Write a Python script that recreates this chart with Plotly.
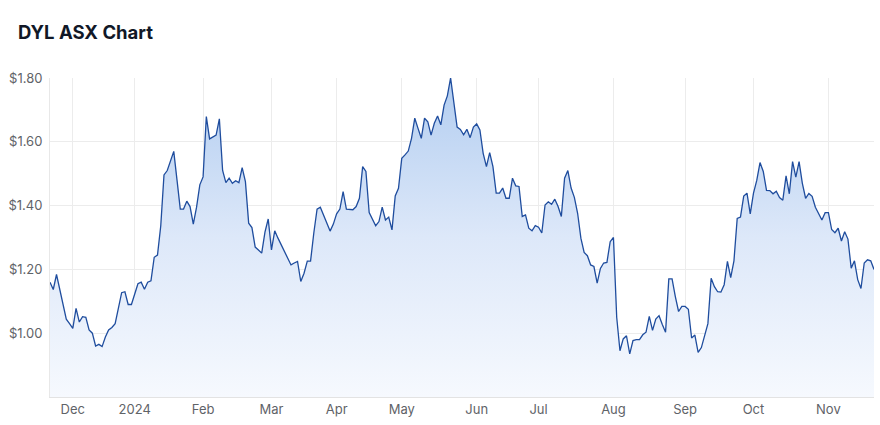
import pandas as pd
import plotly.graph_objects as go

# ASX trading-day calendar for the period shown
start_date = "2023-11-22"
end_date = "2024-11-21"
holidays = ["2023-12-25", "2023-12-26", "2024-01-01", "2024-01-26",
            "2024-03-29", "2024-04-01", "2024-04-25", "2024-06-10"]

# Daily closing price (AUD), one per trading day
prices = [
    1.16, 1.137, 1.184, 1.137, 1.10, 1.044, 1.03, 1.015, 1.078, 1.035,
    1.052, 1.05, 1.01, 1.00, 0.96, 0.965, 0.958, 0.988, 1.01, 1.018,
    1.03, 1.077, 1.127, 1.13, 1.09, 1.09, 1.125, 1.155, 1.16, 1.138,
    1.16, 1.164, 1.238, 1.245, 1.336, 1.496, 1.51, 1.542, 1.57, 1.48,
    1.389, 1.389, 1.414, 1.397, 1.342, 1.395, 1.465, 1.49, 1.679, 1.609,
    1.616, 1.621, 1.672, 1.51, 1.472, 1.486, 1.47, 1.478, 1.472, 1.519,
    1.475, 1.345, 1.331, 1.27, 1.261, 1.251, 1.317, 1.358, 1.261, 1.321,
    1.298, 1.277, 1.256, 1.235, 1.214, 1.22, 1.225, 1.162, 1.188, 1.226,
    1.226, 1.314, 1.389, 1.395, 1.368, 1.343, 1.32, 1.342, 1.374, 1.389,
    1.444, 1.389, 1.387, 1.387, 1.397, 1.423, 1.522, 1.507, 1.378, 1.357,
    1.337, 1.35, 1.395, 1.355, 1.364, 1.324, 1.43, 1.454, 1.548, 1.559,
    1.571, 1.611, 1.674, 1.642, 1.611, 1.674, 1.663, 1.621, 1.658, 1.681,
    1.653, 1.715, 1.744, 1.80, 1.72, 1.646, 1.639, 1.622, 1.639, 1.613,
    1.646, 1.656, 1.637, 1.564, 1.522, 1.566, 1.522, 1.439, 1.439, 1.455,
    1.423, 1.423, 1.486, 1.462, 1.46, 1.366, 1.371, 1.329, 1.321, 1.337,
    1.332, 1.314, 1.402, 1.412, 1.404, 1.42, 1.397, 1.366, 1.486, 1.51,
    1.455, 1.426, 1.376, 1.298, 1.253, 1.243, 1.214, 1.209, 1.157, 1.203,
    1.22, 1.222, 1.287, 1.30, 1.05, 0.945, 0.982, 0.992, 0.935, 0.977,
    0.98, 0.98, 0.995, 1.003, 1.053, 1.009, 1.044, 1.055, 1.027, 1.003,
    1.17, 1.17, 1.115, 1.068, 1.084, 1.084, 1.075, 0.985, 0.994, 0.94,
    0.955, 0.995, 1.03, 1.172, 1.146, 1.13, 1.129, 1.152, 1.225, 1.174,
    1.227, 1.36, 1.364, 1.43, 1.439, 1.374, 1.439, 1.479, 1.535, 1.507,
    1.448, 1.447, 1.437, 1.445, 1.425, 1.417, 1.493, 1.437, 1.538, 1.489,
    1.538, 1.47, 1.423, 1.438, 1.429, 1.395, 1.374, 1.355, 1.378, 1.378,
    1.325, 1.315, 1.329, 1.289, 1.318, 1.295, 1.204, 1.227, 1.168, 1.14,
    1.22, 1.23, 1.227, 1.20,
]

y_ticks = [1.00, 1.20, 1.40, 1.60, 1.80]
y_tick_labels = ["$1.00", "$1.20", "$1.40", "$1.60", "$1.80"]
month_labels = ["Dec", "2024", "Feb", "Mar", "Apr", "May", "Jun", "Jul",
                "Aug", "Sep", "Oct", "Nov"]

days = pd.bdate_range(start_date, end_date)
days = days[~days.isin(pd.to_datetime(holidays))]
dates = [d.strftime("%Y-%m-%d") for d in days]

# first trading day of each month (after the first partial month)
month_starts = []
seen = set()
for d in days:
    key = (d.year, d.month)
    if key not in seen:
        seen.add(key)
        month_starts.append(d.strftime("%Y-%m-%d"))
month_starts = month_starts[1:]

fig = go.Figure()
fig.add_trace(go.Scatter(
    x=dates, y=prices, mode="lines",
    line=dict(color="#1f4d9e", width=1.3),
    fill="tozeroy",
    fillgradient=dict(type="vertical", start=0.80, stop=1.80,
                      colorscale=[[0, "rgba(246,249,254,1)"],
                                  [0.5, "rgba(221,232,249,1)"],
                                  [1, "rgba(178,205,240,1)"]]),
    hoverinfo="skip",
))

fig.update_layout(
    width=880, height=425,
    margin=dict(l=50, r=6, t=78, b=28),
    paper_bgcolor="white", plot_bgcolor="white",
    showlegend=False,
    font=dict(family="Inter, Roboto, sans-serif", size=13, color="#5f6368"),
    title=dict(text="<b>DYL ASX Chart</b>", xref="container", yref="container",
               x=18 / 880, xanchor="left", y=1 - 33 / 425, yanchor="middle",
               font=dict(family="Inter, Roboto, sans-serif", size=18.5, color="#111827")),
    xaxis=dict(
        type="category",
        range=[0, len(dates) - 1],
        tickmode="array", tickvals=month_starts[:len(month_labels)], ticktext=month_labels,
        showgrid=True, gridcolor="#ececec", gridwidth=1,
        showline=True, linecolor="#e3e3e3", linewidth=1,
        ticks="", tickfont=dict(size=13, color="#5f6368"),
        zeroline=False, fixedrange=True,
    ),
    yaxis=dict(
        range=[0.80, 1.80],
        tickmode="array", tickvals=y_ticks, ticktext=y_tick_labels,
        showgrid=True, gridcolor="#ececec", gridwidth=1,
        showline=True, linecolor="#e8e8e8", linewidth=1,
        ticks="", ticklabelstandoff=4,
        tickfont=dict(size=13, color="#5f6368"),
        zeroline=False, fixedrange=True,
    ),
)

fig.write_html("out.html", config={"displayModeBar": False},
               post_script="document.body.style.margin='0';document.body.style.overflow='hidden';")
